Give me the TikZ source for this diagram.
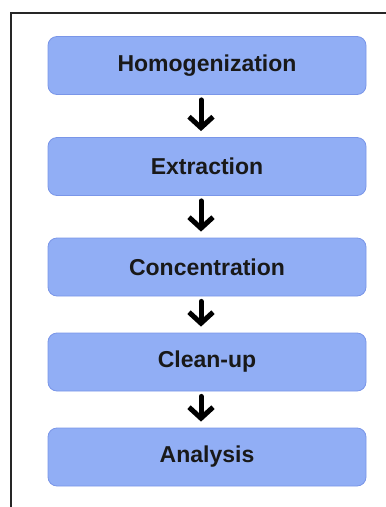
\documentclass[tikz,border=0pt]{standalone}
\usepackage{fontspec}
\setmainfont{Liberation Sans}
\usetikzlibrary{arrows.meta}

\definecolor{boxblue}{RGB}{145,174,245}
\definecolor{boxedge}{RGB}{122,150,232}

\begin{document}
\begin{tikzpicture}[
        x=1pt, y=-1pt,
        stage/.style={draw=boxedge, fill=boxblue, rounded corners=9pt, line width=0.8pt,
            minimum width=318pt, minimum height=58pt, inner sep=0pt,
            font=\bfseries\fontsize{23}{27}\selectfont, text=black!90},
        flow/.style={line width=5pt, line cap=round, line join=round,
            -{Straight Barb[length=11pt, width=24pt]}, shorten <=5pt, shorten >=6pt}
    ]
        \useasboundingbox (0,0) rectangle (386,507);

        % Frame (runs off the page to the right and below)
        \draw[line width=2pt, black!85] (10.5,507) -- (10.5,12.5) -- (386,12.5);

        % Stages, top to bottom
        \node[stage] (H) at (207,65.5) {Homogenization};
        \node[stage] (E) at (207,166.5) {Extraction};
        \node[stage] (C) at (207,267) {Concentration};
        \node[stage] (U) at (207,362) {Clean-up};
        \node[stage] (A) at (207,457) {Analysis};

        % Arrows between stages, a little left of centre
        \draw[flow] ([xshift=-6pt]H.south) -- ([xshift=-6pt]E.north);
        \draw[flow] ([xshift=-6pt]E.south) -- ([xshift=-6pt]C.north);
        \draw[flow] ([xshift=-6pt]C.south) -- ([xshift=-6pt]U.north);
        \draw[flow] ([xshift=-6pt]U.south) -- ([xshift=-6pt]A.north);
    \end{tikzpicture}
\end{document}
